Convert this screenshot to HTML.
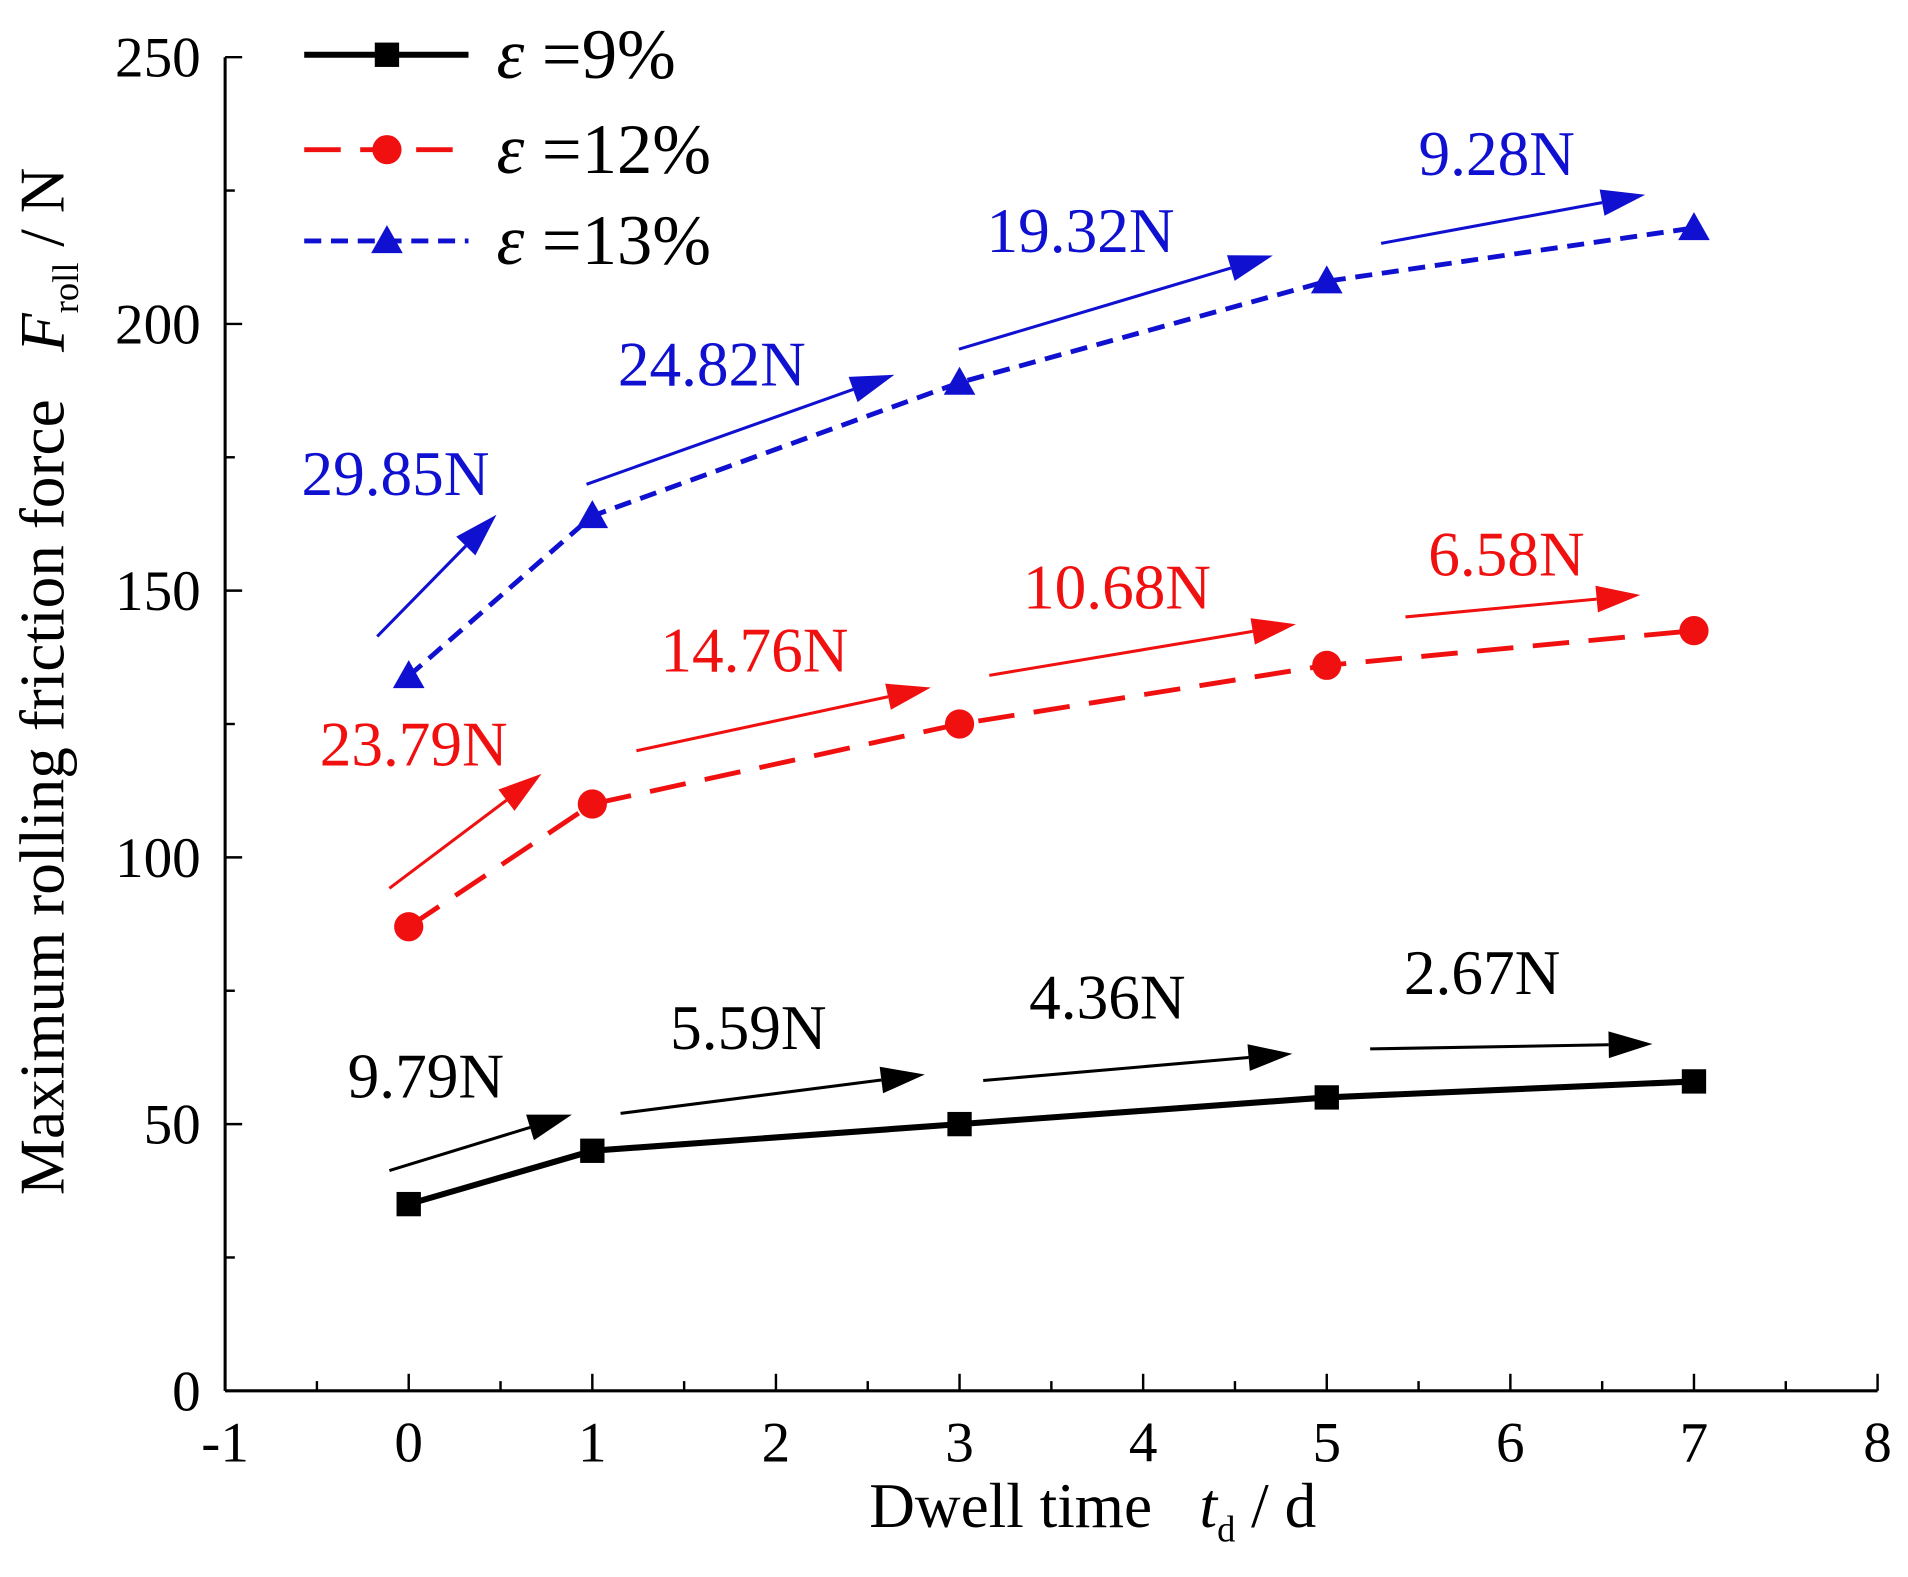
<!DOCTYPE html>
<html><head><meta charset="utf-8"><style>
html,body{margin:0;padding:0;background:#fff;}
svg{display:block;}
text{font-family:"Liberation Serif",serif;}
</style></head><body>
<svg id="chart" width="1908" height="1577" viewBox="0 0 1568 1296" preserveAspectRatio="none" xmlns="http://www.w3.org/2000/svg">
<g id="axes"></g>
<g id="series"></g>
<g id="annot"></g>
<g id="legend"></g>
</svg>
<script>
const xCats = [0, 1, 3, 5, 7];
const s9 = [35, 45, 50, 55, 58];
const s12 = [87, 110, 125, 136, 142.5];
const s13 = [134, 164, 189, 208, 218];
const xTicks = [-1, 0, 1, 2, 3, 4, 5, 6, 7, 8];
const yTicks = [0, 50, 100, 150, 200, 250];

const NS = "http://www.w3.org/2000/svg";
const X0 = 185, X1 = 1543, Y0 = 1143, Y1 = 47;
function sx(v){ return X0 + (v + 1) / 9 * (X1 - X0); }
function sy(v){ return Y0 - v / 250 * (Y0 - Y1); }
function mk(tag, attrs, parent, txt){
  const e = document.createElementNS(NS, tag);
  for (const k in attrs) e.setAttribute(k, attrs[k]);
  if (txt !== undefined) e.textContent = txt;
  parent.appendChild(e);
  return e;
}
const axes = document.getElementById('axes');
let e;
e = mk('line', {x1:X0, y1:Y0, x2:X1, y2:Y0, stroke:'#000', 'stroke-width':2.5}, axes);


e = mk('line', {x1:X0, y1:Y0, x2:X0, y2:Y1, stroke:'#000', 'stroke-width':2.5}, axes);


for (let i = 0; i < xTicks.length; i++) {
  const v = xTicks[i];
  mk('line', {x1:sx(v), y1:Y0, x2:sx(v), y2:Y0-14, stroke:'#000', 'stroke-width':2}, axes);
  if (i < xTicks.length - 1) mk('line', {x1:sx(v+0.5), y1:Y0, x2:sx(v+0.5), y2:Y0-8, stroke:'#000', 'stroke-width':2}, axes);
  e = mk('text', {x:sx(v), y:Y0+58, 'font-size':47, 'text-anchor':'middle'}, axes, String(v));
  
  
}
for (let i = 0; i < yTicks.length; i++) {
  const v = yTicks[i];
  mk('line', {x1:X0, y1:sy(v), x2:X0+14, y2:sy(v), stroke:'#000', 'stroke-width':2}, axes);
  if (i < yTicks.length - 1) mk('line', {x1:X0, y1:sy(v+25), x2:X0+8, y2:sy(v+25), stroke:'#000', 'stroke-width':2}, axes);
  e = mk('text', {x:X0-20, y:sy(v)+16, 'font-size':47, 'text-anchor':'end'}, axes, String(v));
  
  
}
e = mk('text', {x:0, y:0, 'font-size':52, 'text-anchor':'middle', transform:'translate(52,560) rotate(-90)'}, axes);
e.innerHTML = 'Maximum rolling friction force &#160;&#160;<tspan font-style="italic">F</tspan><tspan font-size="30" dy="12">roll</tspan><tspan dy="-12"> / N</tspan>';


e = mk('text', {x:898, y:1255, 'font-size':52, 'text-anchor':'middle'}, axes);
e.innerHTML = 'Dwell time &#160;&#160;<tspan font-style="italic">t</tspan><tspan font-size="30" dy="12">d</tspan><tspan dy="-12"> / d</tspan>';



const ser = document.getElementById('series');
function marker(g, type, x, y, color){
  if (type === 'sq') return mk('rect', {x:x-10, y:y-10, width:20, height:20, fill:color}, g);
  if (type === 'ci') return mk('circle', {cx:x, cy:y, r:12, fill:color}, g);
  return mk('path', {d:`M${x},${y-13} L${x+13},${y+10} L${x-13},${y+10} Z`, fill:color}, g);
}
function series(vals, color, dash, width, type, name){
  const g = mk('g', {}, ser);
  
  
  const pts = xCats.map((c, i) => sx(c) + ',' + sy(vals[i])).join(' ');
  const l = mk('polyline', {points:pts, fill:'none', stroke:color, 'stroke-width':width, 'stroke-dasharray':dash}, g);
  
  
  xCats.forEach((c, i) => {
    const m = marker(g, type, sx(c), sy(vals[i]), color);
    
    
  });
}
series(s9, '#000', 'none', 5, 'sq', 'series-9pct');
series(s12, '#f01010', '30,16', 4, 'ci', 'series-12pct');
series(s13, '#1010d0', '14,8', 4, 'tr', 'series-13pct');

const an = document.getElementById('annot');
const arrows = [
 ['#000', 320,962,470,916,'9.79N',350,885],
 ['#000', 510,915,760,883,'5.59N',615,845],
 ['#000', 808,888,1062,866,'4.36N',910,820],
 ['#000', 1126,862,1358,858,'2.67N',1218,800],
 ['#f01010', 320,730,445,636,'23.79N',340,612],
 ['#f01010', 523,617,765,565,'14.76N',620,535],
 ['#f01010', 813,555,1065,513,'10.68N',918,483],
 ['#f01010', 1155,507,1348,489,'6.58N',1238,456],
 ['#1010d0', 310,523,408,423,'29.85N',325,390],
 ['#1010d0', 482,398,735,308,'24.82N',585,300],
 ['#1010d0', 788,287,1046,210,'19.32N',888,190],
 ['#1010d0', 1135,200,1352,160,'9.28N',1230,127]
];
arrows.forEach(a => {
  const [c,x1,y1,x2,y2,t,tx,ty] = a;
  const ang = Math.atan2(y2-y1, x2-x1);
  const L = 36, W = 11;
  const bx = x2 - L*Math.cos(ang), by = y2 - L*Math.sin(ang);
  const l = mk('line', {x1:x1, y1:y1, x2:bx, y2:by, stroke:c, 'stroke-width':2.5}, an);
  
  
  mk('path', {d:`M${x2},${y2} L${bx - W*Math.sin(ang)},${by + W*Math.cos(ang)} L${bx + W*Math.sin(ang)},${by - W*Math.cos(ang)} Z`, fill:c}, an);
  const tt = mk('text', {x:tx, y:ty+17, 'font-size':52, 'text-anchor':'middle', fill:c}, an, t);
  
  
});

const lg = document.getElementById('legend');


const legItems = [
 ['#000','none',5,'sq','9%',45],
 ['#f01010','30,16',4,'ci','12%',123],
 ['#1010d0','14,8',4,'tr','13%',198]
];
legItems.forEach(it => {
  const [c,d,w,t,lab,y] = it;
  const g = mk('g', {}, lg);
  
  
  mk('line', {x1:250, y1:y, x2:385, y2:y, stroke:c, 'stroke-width':w, 'stroke-dasharray':d}, g);
  marker(g, t, 318, y, c);
  const tx = mk('text', {x:408, y:y+19, 'font-size':58}, g);
  tx.innerHTML = '<tspan font-style="italic">ε</tspan> =' + lab;
});
</script>
</body></html>
